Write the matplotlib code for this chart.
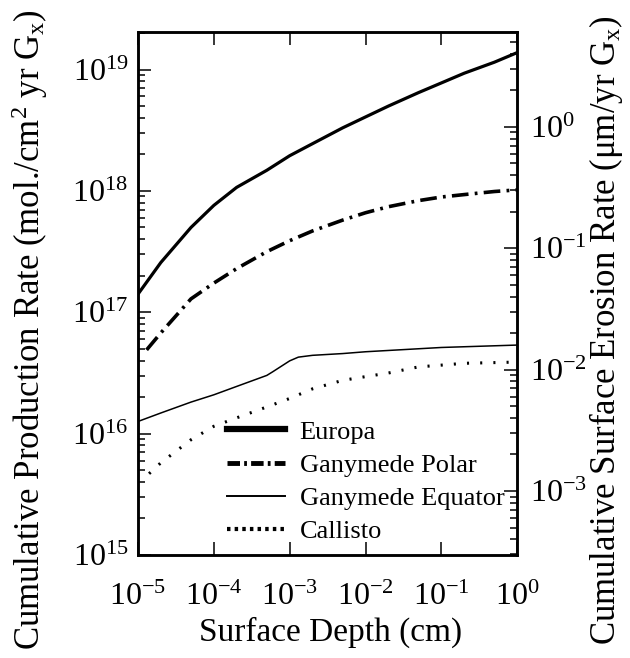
import matplotlib
matplotlib.use("Agg")
import matplotlib.pyplot as plt
from matplotlib.lines import Line2D
from matplotlib.ticker import LogLocator

plt.rcParams["font.family"] = ["Liberation Serif", "DejaVu Serif"]
plt.rcParams["mathtext.fontset"] = "custom"
plt.rcParams["mathtext.rm"] = "Liberation Serif"
plt.rcParams["mathtext.it"] = "Liberation Serif:italic"
plt.rcParams["lines.scale_dashes"] = False
plt.rcParams["axes.unicode_minus"] = False

# depth grid (cm)
depth = [1e-5, 2e-5, 5e-5, 1e-4, 2e-4, 5e-4, 1e-3, 2e-3, 5e-3, 1e-2, 2e-2, 5e-2, 0.1, 0.2, 0.5, 1.0]
europa = [1.41e17, 2.57e17, 5.0e17, 7.6e17, 1.07e18, 1.48e18, 1.95e18, 2.45e18,
          3.31e18, 4.07e18, 5.0e18, 6.46e18, 7.76e18, 9.33e18, 1.15e19, 1.38e19]

depth_polar = [1.3e-5, 2e-5, 5e-5, 1e-4, 2e-4, 5e-4, 1e-3, 2e-3, 5e-3, 1e-2, 2e-2, 5e-2, 0.1, 0.2, 0.5, 1.0]
ganymede_polar = [4.9e16, 6.76e16, 1.29e17, 1.74e17, 2.29e17, 3.16e17, 3.89e17, 4.68e17,
                  5.75e17, 6.61e17, 7.41e17, 8.32e17, 8.91e17, 9.33e17, 9.89e17, 1.02e18]

depth_equator = [1e-5, 2e-5, 5e-5, 1e-4, 2e-4, 5e-4, 6e-4, 1e-3, 1.3e-3, 2e-3, 5e-3, 1e-2, 0.1, 1.0]
ganymede_equator = [1.26e16, 1.48e16, 1.82e16, 2.09e16, 2.45e16, 3.02e16, 3.24e16, 3.98e16,
                    4.27e16, 4.42e16, 4.57e16, 4.73e16, 5.13e16, 5.37e16]

depth_callisto = [1.4e-5, 2e-5, 5e-5, 1e-4, 2e-4, 5e-4, 1e-3, 2e-3, 5e-3, 1e-2, 2e-2, 5e-2, 0.1, 0.2, 0.5, 1.0]
callisto = [4.68e15, 5.75e15, 8.91e15, 1.15e16, 1.35e16, 1.66e16, 1.95e16, 2.34e16,
            2.75e16, 2.95e16, 3.16e16, 3.55e16, 3.67e16, 3.80e16, 3.85e16, 3.89e16]

labels = ["Europa", "Ganymede Polar", "Ganymede Equator", "Callisto"]

# conversion production rate -> erosion rate (right axis)
rate_to_erosion = 3.37e18

fig = plt.figure(figsize=(6.3, 6.58), dpi=100)
ax = fig.add_axes([0.219, 0.1565, 0.602, 0.7945])

ax.plot(depth, europa, color="black", lw=2.3)
ax.plot(depth_polar, ganymede_polar, color="black", lw=2.6, dashes=(12, 4.5, 2, 4.5))
ax.plot(depth_equator, ganymede_equator, color="black", lw=1.1)
ax.plot(depth_callisto, callisto, color="black", lw=2.2, dashes=(1.5, 8))

ax.set_xscale("log")
ax.set_yscale("log")
ax.set_xlim(1e-5, 1.0)
ax.set_ylim(1e15, 2.03e19)
ax.xaxis.set_major_locator(LogLocator(base=10, numticks=12))
ax.yaxis.set_major_locator(LogLocator(base=10, numticks=12))

for s in ax.spines.values():
    s.set_linewidth(1.8)
ax.tick_params(which="both", direction="in", top=True, right=False, width=1.1,
               labelsize=23)
ax.tick_params(which="major", length=9.5)
ax.tick_params(which="minor", length=5)
ax.tick_params(axis="y", pad=7)
ax.tick_params(axis="x", pad=20)

ax2 = ax.twinx()
ax2.set_yscale("log")
ax2.set_ylim(1e15 / rate_to_erosion, 2.03e19 / rate_to_erosion)
ax2.yaxis.set_major_locator(LogLocator(base=10, numticks=12))
ax2.tick_params(which="both", direction="in", width=1.1, labelsize=23, pad=9)
ax2.tick_params(which="major", length=9.5)
ax2.tick_params(which="minor", length=5)
for s in ax2.spines.values():
    s.set_linewidth(1.8)

handles = [
    Line2D([], [], color="black", lw=4.5),
    Line2D([], [], color="black", lw=3.5, dashes=(9, 3, 2, 3)),
    Line2D([], [], color="black", lw=1.4),
    Line2D([], [], color="black", lw=3, dashes=(2.5, 3)),
]
ax.legend(handles, labels, loc="upper left", bbox_to_anchor=(0.235, 0.258),
          frameon=False, fontsize=19, handlelength=2.2, handletextpad=0.55,
          labelspacing=0.37, borderpad=0, borderaxespad=0)

fig.text(331 / 630, 1 - 632 / 658, "Surface Depth (cm)", ha="center", va="center", fontsize=24)
fig.text(30 / 630, 1 - 330 / 658, r"Cumulative Production Rate (mol./cm$^2$ yr G$_\mathrm{x}$)",
         rotation=90, ha="center", va="center", fontsize=25)
fig.text(606 / 630, 1 - 330 / 658, r"Cumulative Surface Erosion Rate ($\mathrm{\mu}$m/yr G$_\mathrm{x}$)",
         rotation=90, ha="center", va="center", fontsize=25)

fig.savefig("out.png", dpi=100)
